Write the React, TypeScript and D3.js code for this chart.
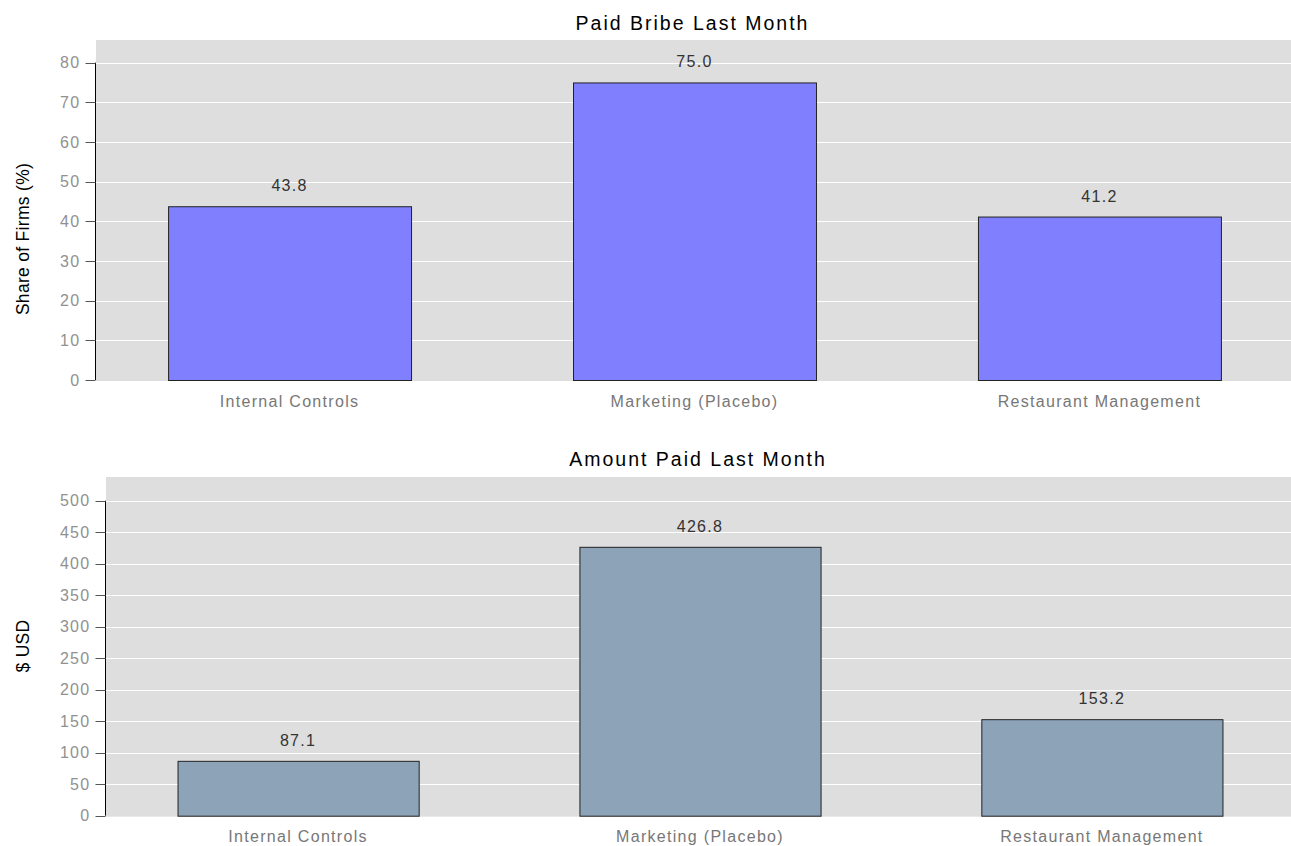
import { useEffect, useRef } from "react";
import * as d3 from "d3";

const CATEGORIES = ["Internal Controls", "Marketing (Placebo)", "Restaurant Management"];
const SHARE_PAID = [43.8, 75.0, 41.2];
const AMOUNT_PAID = [87.1, 426.8, 153.2];
const SHARE_TICKS = [0, 10, 20, 30, 40, 50, 60, 70, 80];
const AMOUNT_TICKS = [0, 50, 100, 150, 200, 250, 300, 350, 400, 450, 500];

const W = 1291;
const H = 846;
const FONT = "Liberation Sans, Arial, sans-serif";

type Panel = {
  title: string;
  ylabel: string;
  values: number[];
  ticks: number[];
  ymax: number;
  color: string;
  left: number;
  right: number;
  top: number;
  bottom: number;
  titleY: number;
  ylabelY: number;
  catY: number;
};

export default function App() {
  const ref = useRef<SVGSVGElement>(null);

  useEffect(() => {
    if (!ref.current) return;
    const svg = d3.select(ref.current);
    svg.selectAll("*").remove();

    const panels: Panel[] = [
      {
        title: "Paid Bribe Last Month",
        ylabel: "Share of Firms (%)",
        values: SHARE_PAID,
        ticks: SHARE_TICKS,
        ymax: 85.7,
        color: "#8080ff",
        left: 96,
        right: 1293,
        top: 40,
        bottom: 380,
        titleY: 30,
        ylabelY: 239,
        catY: 407,
      },
      {
        title: "Amount Paid Last Month",
        ylabel: "$ USD",
        values: AMOUNT_PAID,
        ticks: AMOUNT_TICKS,
        ymax: 537.6,
        color: "#8da3b8",
        left: 106,
        right: 1294,
        top: 477,
        bottom: 815.7,
        titleY: 466,
        ylabelY: 646,
        catY: 842,
      },
    ];

    panels.forEach((p) => {
      const g = svg.append("g");
      const x = d3.scaleBand().domain(CATEGORIES).range([p.left, p.right]).paddingInner(0.4).paddingOuter(0.178);
      const y = d3.scaleLinear().domain([0, p.ymax]).range([p.bottom, p.top]);

      g.append("rect")
        .attr("x", p.left)
        .attr("y", p.top)
        .attr("width", W - p.left)
        .attr("height", p.bottom - p.top + 1)
        .attr("fill", "#dedede");

      // grid
      g.selectAll(".grid")
        .data(p.ticks.filter((t) => t > 0))
        .join("line")
        .attr("x1", p.left)
        .attr("x2", W)
        .attr("y1", (d) => Math.round(y(d)) + 0.5)
        .attr("y2", (d) => Math.round(y(d)) + 0.5)
        .attr("stroke", "#ffffff")
        .attr("stroke-width", 1);

      // y axis
      const axisX = p.left - 0.5;
      g.append("line")
        .attr("x1", axisX)
        .attr("x2", axisX)
        .attr("y1", y(p.ticks[p.ticks.length - 1]))
        .attr("y2", y(0))
        .attr("stroke", "#000");
      g.selectAll(".tick")
        .data(p.ticks)
        .join("line")
        .attr("x1", axisX - 10)
        .attr("x2", axisX)
        .attr("y1", (d) => Math.round(y(d)) + 0.5)
        .attr("y2", (d) => Math.round(y(d)) + 0.5)
        .attr("stroke", "#555");
      g.selectAll(".ticklabel")
        .data(p.ticks)
        .join("text")
        .attr("x", axisX - 15)
        .attr("y", (d) => y(d))
        .attr("dy", "0.36em")
        .attr("text-anchor", "end")
        .attr("font-family", FONT)
        .attr("font-size", 16)
        .attr("letter-spacing", 1.3)
        .attr("fill", "#919191")
        .text((d) => d);

      // bars
      g.selectAll(".bar")
        .data(p.values)
        .join("rect")
        .attr("x", (_, i) => x(CATEGORIES[i])! + 0.5)
        .attr("y", (d) => y(d) + 0.5)
        .attr("width", x.bandwidth())
        .attr("height", (d) => y(0) - y(d))
        .attr("fill", p.color)
        .attr("stroke", "#222")
        .attr("stroke-width", 1);

      g.selectAll(".val")
        .data(p.values)
        .join("text")
        .attr("x", (_, i) => x(CATEGORIES[i])! + x.bandwidth() / 2)
        .attr("y", (d) => y(d) - 15)
        .attr("text-anchor", "middle")
        .attr("font-family", FONT)
        .attr("font-size", 16)
        .attr("letter-spacing", 1.3)
        .attr("fill", "#333")
        .text((d) => d.toFixed(1));

      g.selectAll(".cat")
        .data(CATEGORIES)
        .join("text")
        .attr("x", (d) => x(d)! + x.bandwidth() / 2)
        .attr("y", p.catY)
        .attr("text-anchor", "middle")
        .attr("font-family", FONT)
        .attr("font-size", 16)
        .attr("letter-spacing", 1.3)
        .attr("fill", "#777")
        .text((d) => d);

      g.append("text")
        .attr("x", (p.left + p.right) / 2 - 2)
        .attr("y", p.titleY)
        .attr("text-anchor", "middle")
        .attr("font-family", FONT)
        .attr("font-size", 19.5)
        .attr("letter-spacing", 2)
        .attr("fill", "#000")
        .text(p.title);

      g.append("text")
        .attr("transform", `translate(29,${p.ylabelY}) rotate(-90)`)
        .attr("text-anchor", "middle")
        .attr("font-family", FONT)
        .attr("font-size", 17.5)
        .attr("letter-spacing", 0.3)
        .attr("fill", "#000")
        .text(p.ylabel);
    });
  }, []);

  return (
    <svg
      ref={ref}
      width={W}
      height={H}
      style={{ position: "absolute", left: 0, top: 0, background: "#fff" }}
    />
  );
}
